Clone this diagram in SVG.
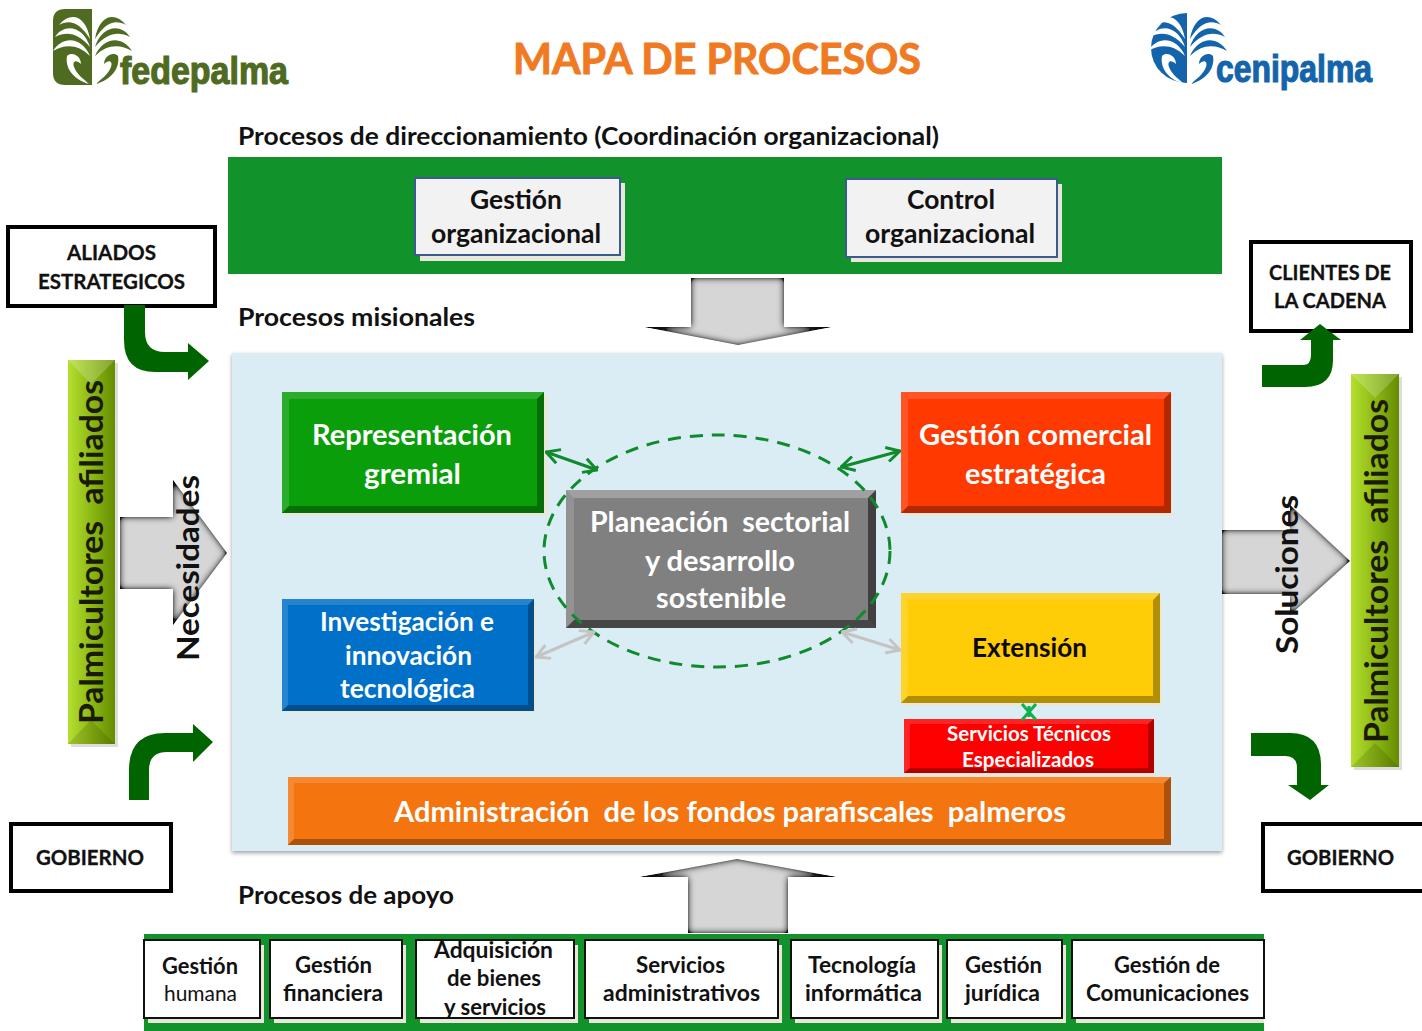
<svg xmlns="http://www.w3.org/2000/svg" width="1422" height="1031" viewBox="0 0 1422 1031">
<style>
text{font-family:Lato,"Liberation Sans",sans-serif;font-weight:700}
.h{font-size:25px;fill:#111}
.w{font-size:28px;fill:#fff}
.b{font-size:26px;fill:#111}
.s{font-size:22px;fill:#111}
.k{font-size:21px;fill:#111;stroke:#111;stroke-width:.3}
.logo{font-family:"Liberation Sans",sans-serif;font-size:38px;font-weight:700;stroke-width:1.2}
.sh{fill:#e9e6da}
.box{fill:#fff;stroke:#111;stroke-width:2}
.org{fill:#f2f2f2;stroke:#3a5a90;stroke-width:2}
.ext{fill:#fff;stroke:#000;stroke-width:4}
.lt{fill:#fff;fill-opacity:.14}
.dk{fill:#000;fill-opacity:.3}
.bent{fill:#006400}
.gray{fill:#d6d6d6;filter:url(#inner)}
.link{fill:none;stroke-width:3}
.gl{stroke:#0f8a2d;marker-start:url(#ga);marker-end:url(#ga)}
.yl{stroke:#c4c4c4;marker-start:url(#ya);marker-end:url(#ya)}
</style>
<defs>
<filter id="inner" x="-10%" y="-10%" width="120%" height="120%">
<feGaussianBlur in="SourceAlpha" stdDeviation="3.5" result="bl"/>
<feComposite in="SourceAlpha" in2="bl" operator="out" result="edge"/>
<feFlood flood-color="#111"/>
<feComposite in2="edge" operator="in" result="dark"/>
<feComponentTransfer in="dark" result="darker"><feFuncA type="linear" slope="1.7"/></feComponentTransfer>
<feMerge><feMergeNode in="SourceGraphic"/><feMergeNode in="darker"/></feMerge>
</filter>
<filter id="soft" x="-5%" y="-5%" width="110%" height="110%">
<feDropShadow dx="0" dy="2" stdDeviation="2" flood-color="#777" flood-opacity=".7"/>
</filter>
<linearGradient id="lime" x1="0" x2="1" y1="0" y2="0"><stop offset="0" stop-color="#b4e030"/><stop offset=".5" stop-color="#8cb814"/><stop offset="1" stop-color="#668c00"/></linearGradient>
<marker id="ga" viewBox="0 0 14 14" refX="13" refY="7" markerWidth="17" markerHeight="17" markerUnits="userSpaceOnUse" orient="auto-start-reverse"><path d="M2 1L13 7L2 13" fill="none" stroke="#0f8a2d" stroke-width="2.4"/></marker>
<marker id="ya" viewBox="0 0 14 14" refX="13" refY="7" markerWidth="17" markerHeight="17" markerUnits="userSpaceOnUse" orient="auto-start-reverse"><path d="M2 1L13 7L2 13" fill="none" stroke="#c4c4c4" stroke-width="2.4"/></marker>
<g id="fronds">
<path d="M-2 30C-6 6-22 2-33 16C-22 10-12 14-2 30Z"/>
<path d="M-2 38C-8 18-27 13-37 28C-25 22-14 24-2 38Z"/>
<path d="M-2 47C-10 28-29 26-39 42C-27 35-14 35-2 47Z"/>
<path d="M-3 75C-20 70-27 58-25 47C-20 42-11 47-11 55C-16 50-20 52-18 58C-15 66-8 70-3 75Z"/>
</g>
</defs>

<rect width="1422" height="1031" fill="#fff"/>

<g id="logo-fedepalma">
<path d="M92 9V85H65Q53 85 53 73V21Q53 9 65 9Z" fill="#4f6b22"/>
<use href="#fronds" x="92" y="9" fill="#fff"/>
<use href="#fronds" transform="translate(93 9) scale(-1 1)" fill="#4f6b22"/>
<text class="logo" x="120" y="84" fill="#4f6b22" stroke="#4f6b22" textLength="168" lengthAdjust="spacingAndGlyphs">fedepalma</text>
</g>
<g id="logo-cenipalma">
<path d="M1187 13V83A36 35 0 0 1 1187 13Z" fill="#1464ac"/>
<use href="#fronds" x="1187" y="9" fill="#fff"/>
<use href="#fronds" transform="translate(1188 9) scale(-1 1)" fill="#1464ac"/>
<text class="logo" x="1216" y="82" fill="#1464ac" stroke="#1464ac" textLength="156" lengthAdjust="spacingAndGlyphs">cenipalma</text>
</g>
<text id="title" x="513" y="74" font-size="42" fill="#f07a22" stroke="#f07a22" stroke-width=".9" textLength="408" lengthAdjust="spacingAndGlyphs">MAPA DE PROCESOS</text>

<text class="h" x="238" y="145" textLength="701" lengthAdjust="spacingAndGlyphs">Procesos de direccionamiento (Coordinación organizacional)</text>
<text class="h" x="238" y="326" textLength="237" lengthAdjust="spacingAndGlyphs">Procesos misionales</text>
<text class="h" x="238" y="904" textLength="216" lengthAdjust="spacingAndGlyphs">Procesos de apoyo</text>

<g id="band-direccionamiento"><rect x="228" y="157" width="994" height="117" fill="#12922b"/></g>
<g id="panel-misionales"><rect x="232" y="353" width="990" height="498" fill="#dbedf4" filter="url(#soft)"/></g>
<g id="band-apoyo"><rect x="144" y="934" width="1120" height="97" fill="#12922b"/></g>

<g id="n-gestion-org">
<rect class="sh" x="420" y="183" width="205" height="78"/><rect class="org" x="415" y="178" width="205" height="77"/>
<text class="b" x="470" y="209" textLength="92" lengthAdjust="spacingAndGlyphs">Gestión</text>
<text class="b" x="431" y="243" textLength="170" lengthAdjust="spacingAndGlyphs">organizacional</text>
</g>
<g id="n-control-org">
<rect class="sh" x="851" y="184" width="211" height="78"/><rect class="org" x="846" y="179" width="211" height="78"/>
<text class="b" x="907" y="209" textLength="88" lengthAdjust="spacingAndGlyphs">Control</text>
<text class="b" x="865" y="243" textLength="170" lengthAdjust="spacingAndGlyphs">organizacional</text>
</g>

<g id="n-representacion">
<rect class="sh" x="286" y="396" width="262" height="120"/>
<rect x="282" y="392" width="262" height="121" fill="#0a9e0a"/>
<path class="lt" d="M282 392H544L537 399H289Z"/><path class="lt" d="M282 392L289 399V506L282 513Z"/>
<path class="dk" d="M544 392V513L537 506V399Z"/><path class="dk" d="M282 513H544L537 506H289Z"/>
<text class="w" x="312" y="445" textLength="200" lengthAdjust="spacingAndGlyphs">Representación</text>
<text class="w" x="364" y="484" textLength="97" lengthAdjust="spacingAndGlyphs">gremial</text>
</g>
<g id="n-comercial">
<rect class="sh" x="904" y="396" width="268" height="120"/>
<rect x="901" y="392" width="270" height="121" fill="#ff3a00"/>
<path class="lt" d="M901 392H1171L1164 399H908Z"/><path class="lt" d="M901 392L908 399V506L901 513Z"/>
<path class="dk" d="M1171 392V513L1164 506V399Z"/><path class="dk" d="M901 513H1171L1164 506H908Z"/>
<text class="w" x="919" y="445" textLength="233" lengthAdjust="spacingAndGlyphs">Gestión comercial</text>
<text class="w" x="965" y="484" textLength="141" lengthAdjust="spacingAndGlyphs">estratégica</text>
</g>
<g id="n-investigacion">
<rect class="sh" x="286" y="603" width="250" height="110"/>
<rect x="282" y="599" width="252" height="112" fill="#0070c8"/>
<path class="lt" d="M282 599H534L528 605H288Z"/><path class="lt" d="M282 599L288 605V705L282 711Z"/>
<path class="dk" d="M534 599V711L528 705V605Z"/><path class="dk" d="M282 711H534L528 705H288Z"/>
<text class="w" style="font-size:26px" x="320" y="631" textLength="174" lengthAdjust="spacingAndGlyphs">Investigación e</text>
<text class="w" style="font-size:26px" x="345" y="665" textLength="127" lengthAdjust="spacingAndGlyphs">innovación</text>
<text class="w" style="font-size:26px" x="340" y="698" textLength="135" lengthAdjust="spacingAndGlyphs">tecnológica</text>
</g>
<g id="n-extension">
<rect class="sh" x="904" y="597" width="258" height="109"/>
<rect x="901" y="593" width="259" height="110" fill="#ffcc08"/>
<path class="lt" d="M901 593H1160L1153 600H908Z"/><path class="lt" d="M901 593L908 600V696L901 703Z"/>
<path class="dk" d="M1160 593V703L1153 696V600Z"/><path class="dk" d="M901 703H1160L1153 696H908Z"/>
<text x="972" y="657" font-size="27" fill="#0a0a00" textLength="115" lengthAdjust="spacingAndGlyphs">Extensión</text>
</g>
<g id="n-servicios-tecnicos">
<rect class="sh" x="907" y="724" width="248" height="53"/>
<rect x="904" y="719" width="250" height="54" fill="#ff0000"/>
<path class="lt" d="M904 719H1154L1148 724H910Z"/><path class="lt" d="M904 719L910 724V768L904 773Z"/>
<path class="dk" d="M1154 719V773L1148 768V724Z"/><path class="dk" d="M904 773H1154L1148 768H910Z"/>
<text x="947" y="741" font-size="20" fill="#fff" textLength="164" lengthAdjust="spacingAndGlyphs">Servicios Técnicos</text>
<text x="962" y="767" font-size="20" fill="#fff" textLength="132" lengthAdjust="spacingAndGlyphs">Especializados</text>
</g>
<g id="n-administracion">
<rect x="288" y="777" width="883" height="68" fill="#f47510"/>
<path class="lt" d="M288 777H1171L1164 783H294Z"/><path class="lt" d="M288 777L294 783V839L288 845Z"/>
<path class="dk" d="M1171 777V845L1164 839V783Z"/><path class="dk" d="M288 845H1171L1164 839H294Z"/>
<text class="w" x="394" y="822" textLength="672" lengthAdjust="spacingAndGlyphs">Administración&#160; de los fondos parafiscales&#160; palmeros</text>
</g>
<g id="n-planeacion">
<rect x="566" y="490" width="310" height="138" fill="#808080"/>
<path fill="#fff" fill-opacity=".25" d="M566 490H876L868 498H574Z"/><path class="lt" d="M566 490L574 498V620L566 628Z"/>
<path fill="#000" fill-opacity=".5" d="M876 490V628L868 620V498Z"/><path fill="#000" fill-opacity=".45" d="M566 628H876L868 620H574Z"/>
<text class="w" x="590" y="532" textLength="260" lengthAdjust="spacingAndGlyphs">Planeación&#160; sectorial</text>
<text class="w" x="645" y="571" textLength="150" lengthAdjust="spacingAndGlyphs">y desarrollo</text>
<text class="w" x="656" y="608" textLength="130" lengthAdjust="spacingAndGlyphs">sostenible</text>
</g>

<g id="n-palmicultores-izq">
<rect x="71" y="363" width="47" height="384" fill="#ddd"/>
<rect x="68" y="360" width="47" height="384" fill="url(#lime)"/>
<path fill="#fff" fill-opacity=".2" d="M68 360H115L91 384Z"/><path fill="#000" fill-opacity=".12" d="M68 744H115L91 720Z"/>
<text transform="translate(103 724) rotate(-90)" font-size="33" fill="#1a1a00" textLength="344" lengthAdjust="spacingAndGlyphs">Palmicultores&#160; afiliados</text>
</g>
<g id="n-palmicultores-der">
<rect x="1354" y="377" width="48" height="393" fill="#ddd"/>
<rect x="1351" y="374" width="48" height="393" fill="url(#lime)"/>
<path fill="#fff" fill-opacity=".2" d="M1351 374H1399L1375 398Z"/><path fill="#000" fill-opacity=".12" d="M1351 767H1399L1375 743Z"/>
<text transform="translate(1388 743) rotate(-90)" font-size="33" fill="#1a1a00" textLength="344" lengthAdjust="spacingAndGlyphs">Palmicultores&#160; afiliados</text>
</g>

<g id="n-aliados"><rect class="ext" x="8" y="227" width="207" height="79"/>
<text class="k" x="67" y="260" textLength="89" lengthAdjust="spacingAndGlyphs">ALIADOS</text>
<text class="k" x="38" y="289" textLength="147" lengthAdjust="spacingAndGlyphs">ESTRATEGICOS</text></g>
<g id="n-clientes"><rect class="ext" x="1251" y="242" width="160" height="89"/>
<text class="k" x="1269" y="280" textLength="122" lengthAdjust="spacingAndGlyphs">CLIENTES DE</text>
<text class="k" x="1274" y="308" textLength="112" lengthAdjust="spacingAndGlyphs">LA CADENA</text></g>
<g id="n-gobierno-izq"><rect class="ext" x="11" y="824" width="160" height="67"/>
<text class="k" x="36" y="865" textLength="108" lengthAdjust="spacingAndGlyphs">GOBIERNO</text></g>
<g id="n-gobierno-der"><rect class="ext" x="1263" y="824" width="162" height="67"/>
<text class="k" x="1287" y="865" textLength="107" lengthAdjust="spacingAndGlyphs">GOBIERNO</text></g>

<g id="n-apoyo-humana"><rect class="sh" x="148" y="945" width="116" height="78"/><rect class="box" x="144" y="940" width="116" height="78"/>
<text class="s" x="162" y="974" textLength="76" lengthAdjust="spacingAndGlyphs">Gestión</text>
<text class="s" style="font-weight:400" x="164" y="1001" textLength="73" lengthAdjust="spacingAndGlyphs">humana</text></g>
<g id="n-apoyo-financiera"><rect class="sh" x="274" y="945" width="132" height="78"/><rect class="box" x="270" y="940" width="132" height="78"/>
<text class="s" x="295" y="973" textLength="77" lengthAdjust="spacingAndGlyphs">Gestión</text>
<text class="s" x="283" y="1001" textLength="100" lengthAdjust="spacingAndGlyphs">financiera</text></g>
<g id="n-apoyo-adquisicion"><rect class="sh" x="420" y="945" width="158" height="78"/><rect class="box" x="416" y="940" width="158" height="78"/>
<text class="s" x="434" y="958" textLength="119" lengthAdjust="spacingAndGlyphs">Adquisición</text>
<text class="s" x="447" y="986" textLength="94" lengthAdjust="spacingAndGlyphs">de bienes</text>
<text class="s" x="444" y="1015" textLength="102" lengthAdjust="spacingAndGlyphs">y servicios</text></g>
<g id="n-apoyo-servicios"><rect class="sh" x="589" y="945" width="193" height="78"/><rect class="box" x="585" y="940" width="193" height="78"/>
<text class="s" x="636" y="973" textLength="89" lengthAdjust="spacingAndGlyphs">Servicios</text>
<text class="s" x="603" y="1001" textLength="157" lengthAdjust="spacingAndGlyphs">administrativos</text></g>
<g id="n-apoyo-tecnologia"><rect class="sh" x="795" y="945" width="147" height="78"/><rect class="box" x="791" y="940" width="147" height="78"/>
<text class="s" x="808" y="973" textLength="108" lengthAdjust="spacingAndGlyphs">Tecnología</text>
<text class="s" x="805" y="1001" textLength="117" lengthAdjust="spacingAndGlyphs">informática</text></g>
<g id="n-apoyo-juridica"><rect class="sh" x="951" y="945" width="115" height="78"/><rect class="box" x="947" y="940" width="115" height="78"/>
<text class="s" x="965" y="973" textLength="77" lengthAdjust="spacingAndGlyphs">Gestión</text>
<text class="s" x="965" y="1001" textLength="75" lengthAdjust="spacingAndGlyphs">jurídica</text></g>
<g id="n-apoyo-comunicaciones"><rect class="sh" x="1076" y="945" width="188" height="78"/><rect class="box" x="1072" y="940" width="192" height="78"/>
<text class="s" x="1114" y="973" textLength="106" lengthAdjust="spacingAndGlyphs">Gestión de</text>
<text class="s" x="1086" y="1001" textLength="163" lengthAdjust="spacingAndGlyphs">Comunicaciones</text></g>

<g id="connectors">
<path class="gray" d="M691 278H784V327H831L738 345L645 327H691Z"/>
<path class="gray" d="M737 859L836 877H788V933H688V877H640Z"/>
<path class="gray" d="M120 517H173V480L227 553L173 625V589H120Z"/>
<path class="gray" d="M1222 530H1290V505L1350 561L1290 615V594H1222Z"/>
<path class="bent" d="M124 305H145V332Q145 352 165 352H188V343L209 361L188 380V372H155Q124 372 124 340Z"/>
<path class="bent" d="M129 800H149V770Q149 752 167 752H193V762L213 742L193 724V733H165Q129 733 129 770Z"/>
<path class="bent" d="M1262 365H1303Q1311 365 1311 355V340H1300L1320 324L1341 340H1333V360Q1333 387 1305 387H1262Z"/>
<path class="bent" d="M1251 733H1290Q1321 733 1321 765V785H1329L1310 800L1288 785H1297V768Q1297 756 1285 756H1251Z"/>
<ellipse cx="717" cy="551" rx="173" ry="116" fill="none" stroke="#0f8a2d" stroke-width="3" stroke-dasharray="13 9"/>
<line class="link gl" x1="546" y1="452" x2="597" y2="470"/>
<line class="link gl" x1="900" y1="451" x2="841" y2="467"/>
<line class="link yl" x1="536" y1="657" x2="594" y2="632"/>
<line class="link yl" x1="900" y1="650" x2="842" y2="632"/>
<path d="M1022 704L1036 720M1036 704L1022 720M1029 706V717" fill="none" stroke="#10b050" stroke-width="3"/>
</g>

<text transform="translate(199 661) rotate(-90)" font-size="30" fill="#111" textLength="186" lengthAdjust="spacingAndGlyphs">Necesidades</text>
<text transform="translate(1298 654) rotate(-90)" font-size="30" fill="#111" textLength="159" lengthAdjust="spacingAndGlyphs">Soluciones</text>
</svg>
